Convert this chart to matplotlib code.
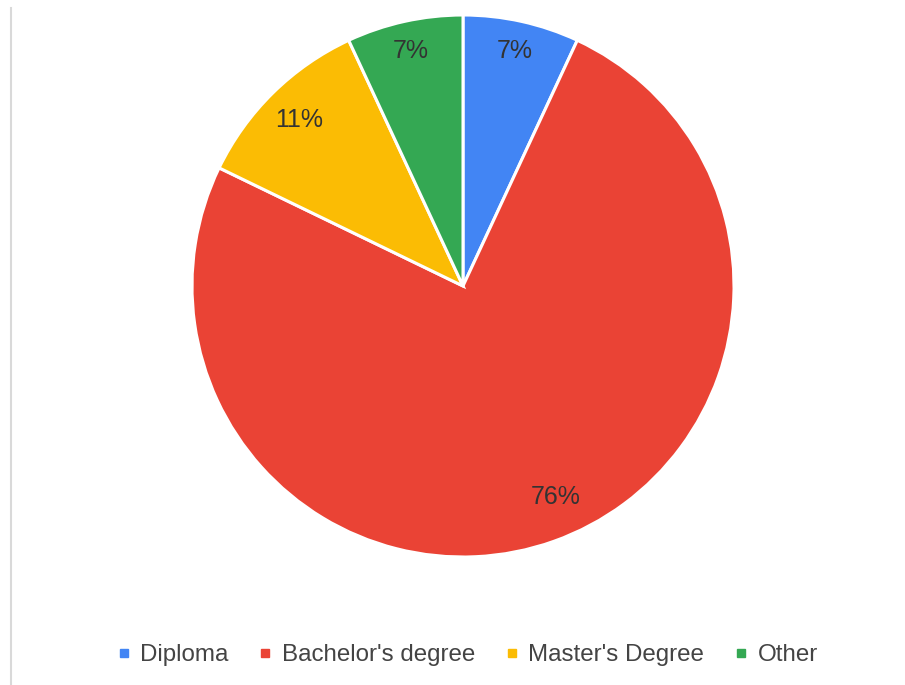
import numpy as np
import matplotlib
matplotlib.use("Agg")
import matplotlib.pyplot as plt
from matplotlib.lines import Line2D

plt.rcParams['font.family'] = ['Liberation Sans', 'DejaVu Sans']

# Highest education level of respondents (%)
categories = ["Diploma", "Bachelor's degree", "Master's Degree", "Other"]
shares = [7, 76, 11, 7]
colors = ["#4285F4", "#EA4335", "#FBBC04", "#34A853"]

W, H = 905, 685
fig = plt.figure(figsize=(W / 100, H / 100), dpi=100)
fig.patch.set_facecolor("white")

# pie centred at (463, 286) px from top-left, radius 271 px
cx, cy, r = 463, 286, 271
ax = fig.add_axes([(cx - r) / W, (H - cy - r) / H, 2 * r / W, 2 * r / H])
wedges, texts = ax.pie(shares, colors=colors, startangle=90, counterclock=False,
                       radius=1.0, labels=[f"{v}%" for v in shares], labeldistance=0.86,
                       wedgeprops=dict(edgecolor="white", linewidth=2.2),
                       textprops=dict(color="#333333", fontsize=18))

# push labels out toward the rim, the big slice label a little off-centre
label_dist = [0.89, 0.85, 0.86, 0.89]
label_turn = [0, 4, 0, 0]
for w, t, d, dt in zip(wedges, texts, label_dist, label_turn):
    mid = np.deg2rad((w.theta1 + w.theta2) / 2 + dt)
    t.set_position((d * np.cos(mid), d * np.sin(mid)))
    t.set_horizontalalignment("center")
    t.set_verticalalignment("center")
ax.set_xlim(-1, 1)
ax.set_ylim(-1, 1)
ax.set_aspect("equal")
ax.axis("off")

# legend along the bottom
handles = [Line2D([], [], marker="s", linestyle="none", markersize=6,
                  markerfacecolor=c, markeredgecolor=c) for c in colors]
fig.legend(handles, categories, loc="center", bbox_to_anchor=(467 / W, 1 - 655 / H),
           ncol=4, frameon=False, fontsize=17.4, labelcolor="#444444",
           handlelength=0.6, handletextpad=0.4, columnspacing=1.2)

# thin grey rule at the left edge
fig.add_artist(Line2D([10.5 / W, 10.5 / W], [0, 1 - 8 / H], transform=fig.transFigure,
                      color="#d9d9d9", linewidth=1.5))

fig.savefig("out.png", dpi=100, facecolor="white")
